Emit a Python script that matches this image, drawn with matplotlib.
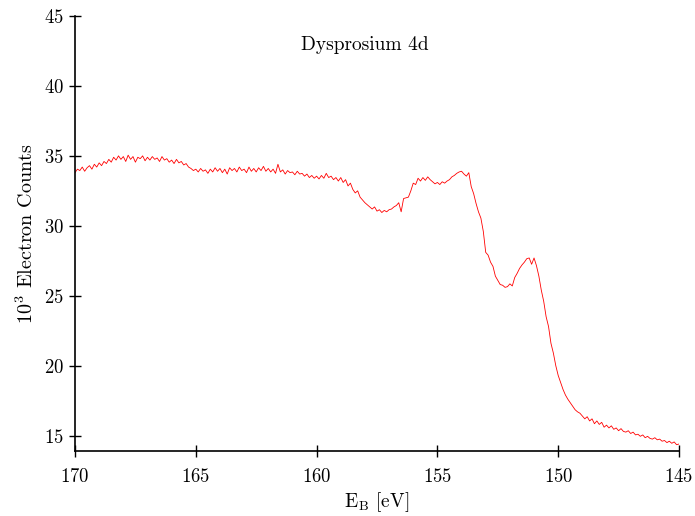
import numpy as np
import matplotlib
matplotlib.use("Agg")
import matplotlib.pyplot as plt

plt.rcParams['font.family'] = ['cmr10', 'DejaVu Serif']
plt.rcParams['mathtext.fontset'] = 'cm'
plt.rcParams['axes.formatter.use_mathtext'] = True

title = "Dysprosium 4d"
xlabel = r"E$_\mathrm{B}$ [eV]"
ylabel = r"$10^3$ Electron Counts"
xticks = [170, 165, 160, 155, 150, 145]
yticks = [15, 20, 25, 30, 35, 40, 45]

# binding energy grid 170.0 -> 145.0 eV, 0.1 eV step
energy = np.linspace(170.0, 145.0, 251)

counts = [
    33.80, 34.05, 33.95, 34.20, 33.90, 34.15, 34.30, 34.05, 34.40, 34.20,
    34.50, 34.30, 34.60, 34.45, 34.75, 34.55, 34.90, 34.70, 35.00, 34.75,
    34.95, 34.60, 35.05, 34.75, 34.95, 34.55, 34.90, 34.80, 35.00, 34.65,
    34.90, 34.70, 34.95, 34.75, 34.85, 34.60, 34.95, 34.70, 34.80, 34.55,
    34.70, 34.45, 34.75, 34.50, 34.60, 34.35, 34.45, 34.20, 34.10, 33.95,
    34.05, 33.85, 34.10, 33.90, 34.00, 33.75, 34.05, 33.85, 34.15, 33.90,
    34.10, 33.80, 34.05, 33.70, 34.15, 33.95, 34.10, 33.85, 34.20, 33.95,
    34.05, 33.80, 34.20, 33.90, 34.10, 33.85, 34.15, 33.95, 34.25, 33.90,
    34.10, 33.85, 34.05, 33.75, 34.40, 33.85, 34.00, 33.70, 33.95, 33.80,
    33.85, 33.65, 33.90, 33.70, 33.75, 33.55, 33.70, 33.45, 33.60, 33.40,
    33.55, 33.35, 33.60, 33.40, 33.75, 33.45, 33.55, 33.30, 33.45, 33.20,
    33.45, 33.10, 33.30, 32.85, 33.05, 32.60, 32.35, 32.50, 32.05, 31.85,
    31.65, 31.50, 31.35, 31.20, 31.35, 31.05, 31.15, 30.95, 31.10, 31.00,
    31.15, 31.20, 31.35, 31.45, 31.65, 31.00, 31.95, 32.00, 32.05, 32.50,
    33.05, 32.95, 33.40, 33.20, 33.45, 33.25, 33.50, 33.30, 33.15, 33.00,
    33.10, 32.95, 33.15, 33.05, 33.20, 33.30, 33.50, 33.60, 33.75, 33.85,
    33.90, 33.70, 33.55, 33.80, 32.80, 32.30, 31.60, 31.00, 30.55, 29.60,
    28.10, 27.90, 27.40, 27.10, 26.40, 26.10, 25.80, 25.75, 25.60, 25.65,
    25.85, 25.70, 26.30, 26.60, 26.95, 27.20, 27.40, 27.65, 27.70, 27.25,
    27.70, 27.15, 26.40, 25.40, 24.60, 23.50, 22.80, 21.60, 20.90, 20.00,
    19.30, 18.80, 18.30, 17.90, 17.60, 17.35, 17.10, 16.85, 16.70, 16.60,
    16.40, 16.20, 16.35, 16.05, 16.20, 15.85, 16.05, 15.80, 15.95, 15.60,
    15.75, 15.55, 15.70, 15.45, 15.55, 15.35, 15.50, 15.30, 15.25, 15.35,
    15.15, 15.25, 15.05, 15.10, 14.95, 15.05, 14.85, 14.95, 14.80, 14.75,
    14.85, 14.70, 14.75, 14.60, 14.65, 14.50, 14.60, 14.45, 14.55, 14.35,
    14.40,
]

fig = plt.figure(figsize=(6.95, 5.16), dpi=100)
ax = fig.add_axes([75/695, 1-451/516, (679-75)/695, (451-16)/516])

ax.plot(energy, counts, color='#ff0000', lw=0.6)

ax.set_xlim(170, 145)
ax.set_ylim(13.9, 45)
ax.set_xticks(xticks)
ax.set_yticks(yticks)

for s in ['top', 'right']:
    ax.spines[s].set_visible(False)
for s in ['left', 'bottom']:
    ax.spines[s].set_linewidth(1.2)

ax.tick_params(axis='both', direction='inout', length=8.5, width=1.0, labelsize=13.5)
ax.tick_params(axis='x', pad=8)
ax.tick_params(axis='y', pad=4)

ax.text(0.48, 0.933, title, transform=ax.transAxes, ha='center', va='center', fontsize=14)
ax.set_xlabel(xlabel, fontsize=14, labelpad=3)
ax.set_ylabel(ylabel, fontsize=14.5, labelpad=5)

fig.savefig("out.png", dpi=100)
